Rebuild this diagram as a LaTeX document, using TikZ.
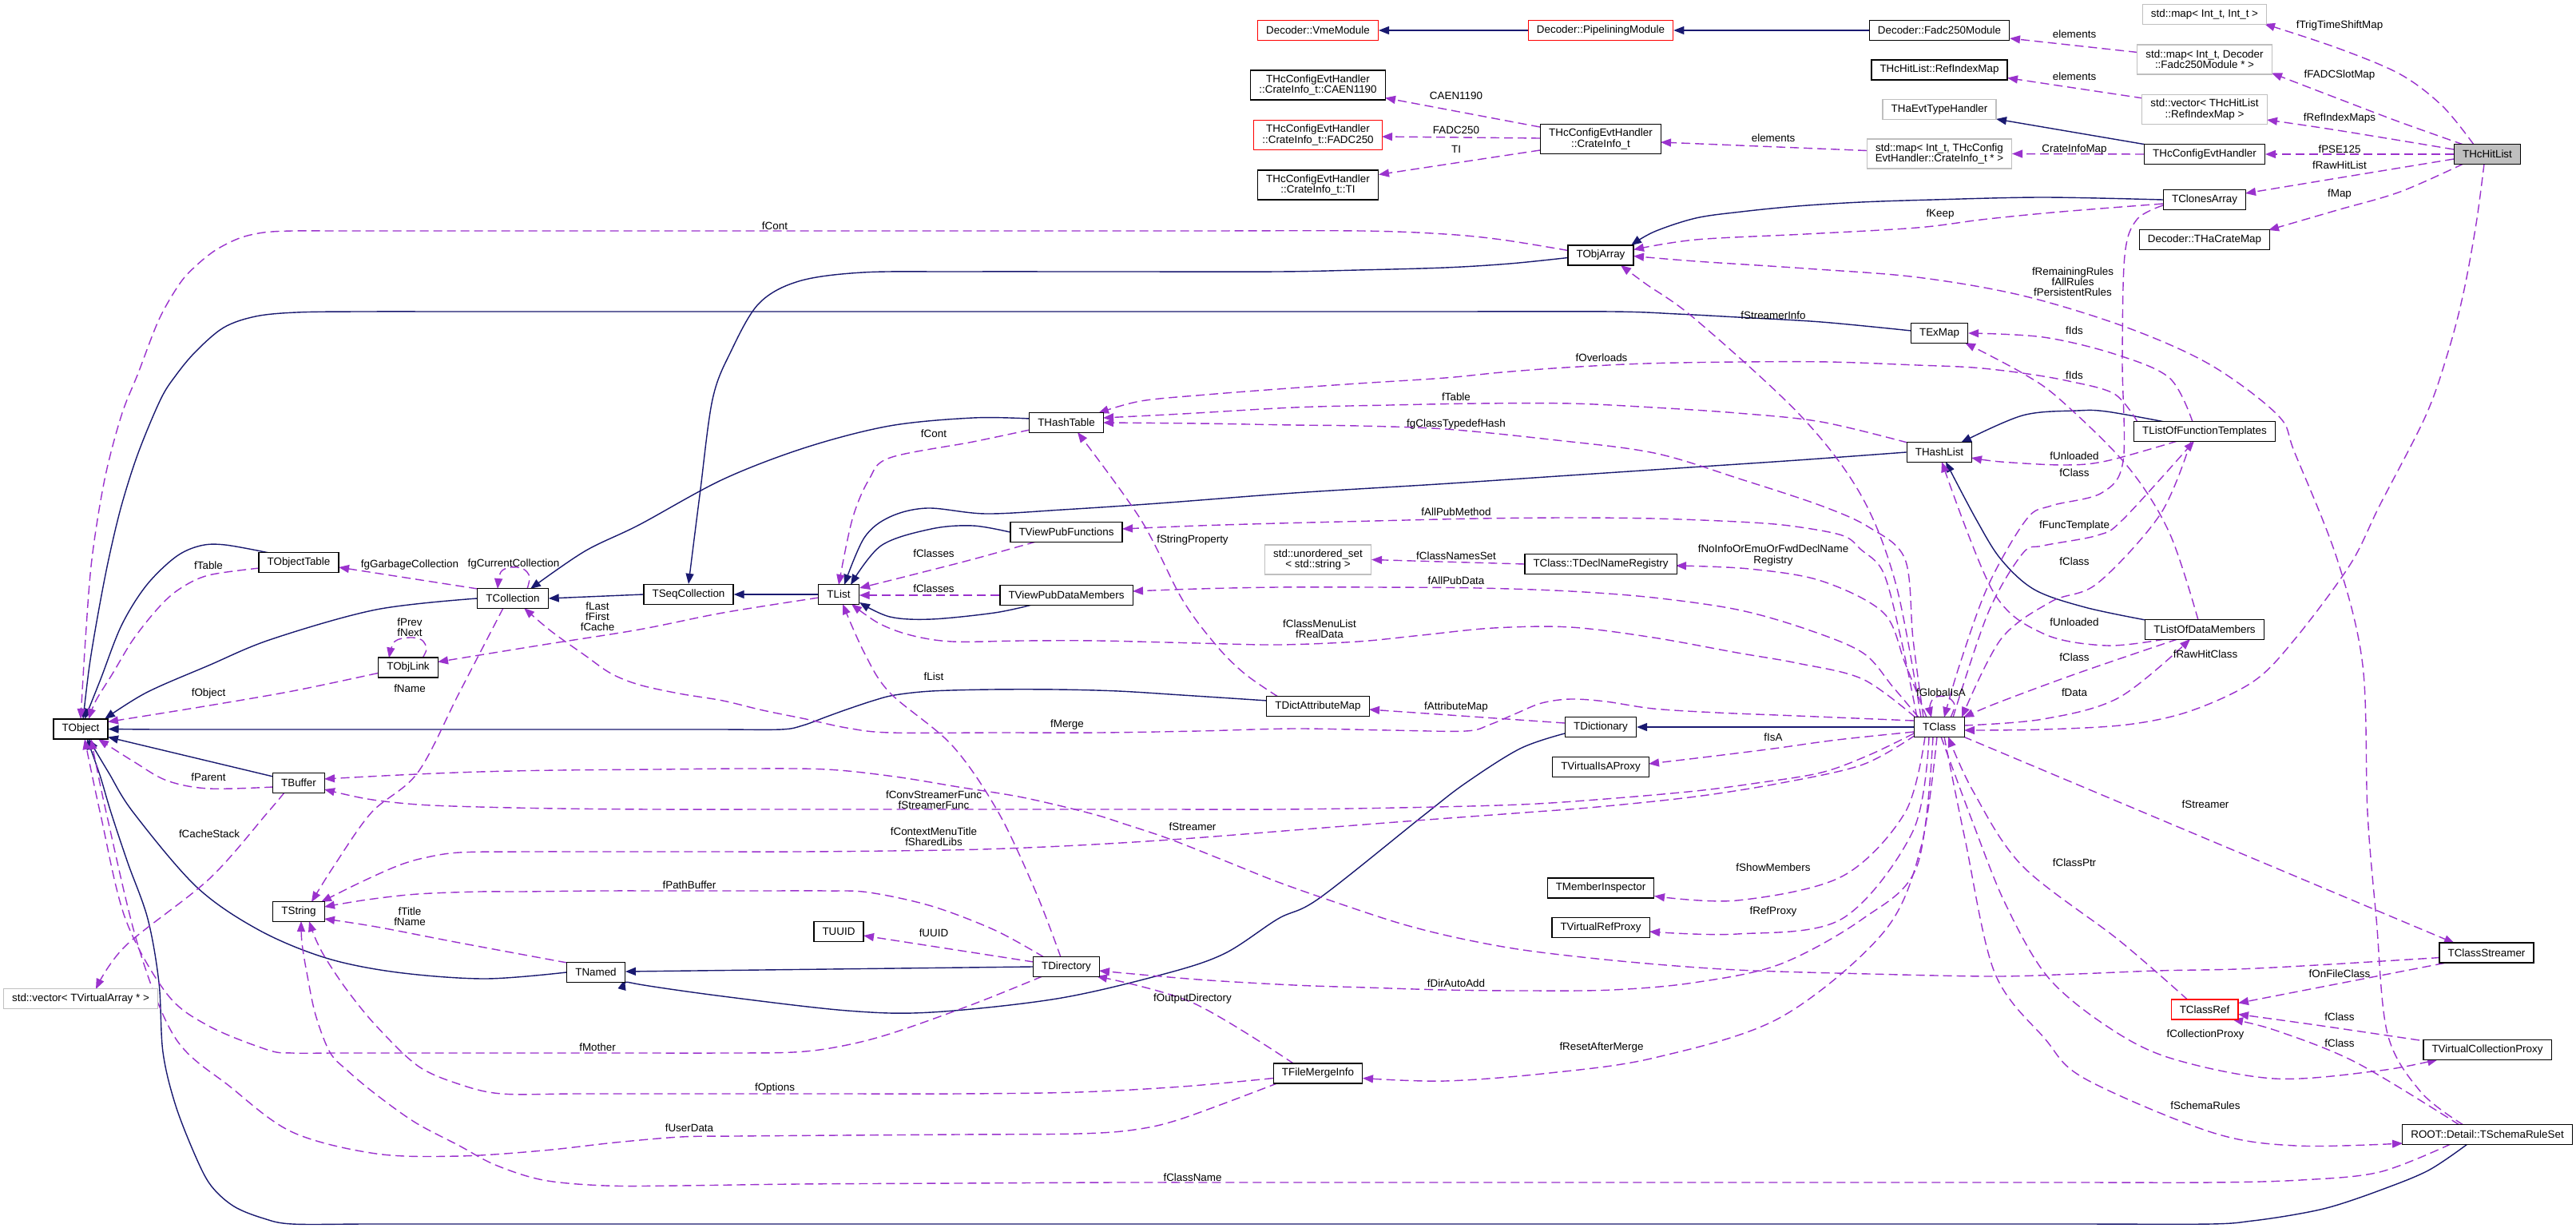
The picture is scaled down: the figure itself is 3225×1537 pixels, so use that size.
\documentclass[tikz,border=0pt]{standalone}
\usepackage{fontspec}
\setmainfont{Liberation Sans}
\usetikzlibrary{arrows.meta,calc,backgrounds}
\definecolor{inhc}{HTML}{191970}
\definecolor{usec}{HTML}{9A32CD}
\definecolor{gbord}{HTML}{BFBFBF}
\definecolor{hitfill}{HTML}{BFBFBF}
\newcommand\dxfont{\fontsize{6.7}{6.6}\selectfont}
\begin{document}
\begin{tikzpicture}[x=0.5pt,y=-0.5pt,
  box/.style={draw=black, line width=0.6pt, fill=white, font=\dxfont, inner xsep=5.3pt, inner ysep=1pt, minimum height=12.5pt, align=center},
  two/.style={minimum height=18.5pt},
  gb/.style={draw=gbord},
  rb/.style={draw=red},
  inh/.style={draw=inhc, line width=0.7pt, -{Triangle[length=6.5pt,width=5pt]}},
  dep/.style={draw=usec, line width=0.7pt, dash pattern=on 5.5pt off 3pt, -{Triangle[length=6.5pt,width=5pt]}},
  lbl/.style={font=\dxfont, inner sep=0pt, align=center},
  sm/.style={smooth, tension=0.55}]
\useasboundingbox (0,0) rectangle (3225,1537);

% ---------------- nodes ----------------
\node[box,rb] (vme) at (1650,38) {Decoder::VmeModule};
\node[box,rb] (pipe) at (2004,38) {Decoder::PipeliningModule};
\node[box] (fadc) at (2428,38) {Decoder::Fadc250Module};
\node[box,two] (caen) at (1650,106.5) {THcConfigEvtHandler\\::CrateInfo\_t::CAEN1190};
\node[box,two,rb] (fadcinfo) at (1650,169) {THcConfigEvtHandler\\::CrateInfo\_t::FADC250};
\node[box,two] (ti) at (1650,231.5) {THcConfigEvtHandler\\::CrateInfo\_t::TI};
\node[box,two] (crate) at (2004,174) {THcConfigEvtHandler\\::CrateInfo\_t};
\node[box,two,gb] (mapcrate) at (2428,192.5) {std::map< Int\_t, THcConfig\\EvtHandler::CrateInfo\_t * >};
\node[box,gb] (evttype) at (2428,137) {THaEvtTypeHandler};
\node[box] (refidx) at (2428,87.5) {THcHitList::RefIndexMap};
\node[box,gb] (mapint) at (2760,18) {std::map< Int\_t, Int\_t >};
\node[box,two,gb] (mapfadc) at (2760,74.5) {std::map< Int\_t, Decoder\\::Fadc250Module * >};
\node[box,two,gb] (vecref) at (2760,137) {std::vector< THcHitList\\::RefIndexMap >};
\node[box] (cfg) at (2760,193) {THcConfigEvtHandler};
\node[box,fill=hitfill] (hit) at (3114,193) {THcHitList};
\node[box] (clones) at (2760,250) {TClonesArray};
\node[box] (cratemap) at (2760,300) {Decoder::THaCrateMap};
\node[box] (objarr) at (2004,319.5) {TObjArray};
\node[box] (exmap) at (2428,417) {TExMap};
\node[box] (hashtable) at (1335,529) {THashTable};
\node[box] (seqcoll) at (862,744) {TSeqCollection};
\node[box] (tlist) at (1050,744) {TList};
\node[box] (vpf) at (1335,666) {TViewPubFunctions};
\node[box] (vpd) at (1335,745) {TViewPubDataMembers};
\node[box,two,gb] (uset) at (1650,700.5) {std::unordered\_set\\< std::string >};
\node[box] (dictattr) at (1650,884) {TDictAttributeMap};
\node[box] (declreg) at (2004,706) {TClass::TDeclNameRegistry};
\node[box] (dict) at (2004,910) {TDictionary};
\node[box] (isaproxy) at (2004,960) {TVirtualIsAProxy};
\node[box] (tclass) at (2428,910) {TClass};
\node[box] (hashlist) at (2428,566) {THashList};
\node[box] (lft) at (2760,540) {TListOfFunctionTemplates};
\node[box] (ldm) at (2760,788) {TListOfDataMembers};
\node[box] (objtable) at (374,704) {TObjectTable};
\node[box] (coll) at (642,749) {TCollection};
\node[box] (objlink) at (511,835.5) {TObjLink};
\node[box] (tobject) at (101,912.5) {TObject};
\node[box] (buffer) at (374,980) {TBuffer};
\node[box] (tstring) at (374,1141) {TString};
\node[box,gb] (vecva) at (101,1250) {std::vector< TVirtualArray * >};
\node[box] (named) at (746,1217) {TNamed};
\node[box] (uuid) at (1050,1166) {TUUID};
\node[box] (dir) at (1335,1210) {TDirectory};
\node[box] (fmi) at (1650,1343.5) {TFileMergeInfo};
\node[box] (meminsp) at (2004,1111.5) {TMemberInspector};
\node[box] (refproxy) at (2004,1161) {TVirtualRefProxy};
\node[box] (cstreamer) at (3113,1192.5) {TClassStreamer};
\node[box,rb] (classref) at (2760,1263.5) {TClassRef};
\node[box] (vcp) at (3114,1314) {TVirtualCollectionProxy};
\node[box] (schema) at (3114,1420) {ROOT::Detail::TSchemaRuleSet};

% ---------------- labels ----------------
\node[lbl] (l1) at (2929,32) {fTrigTimeShiftMap};
\node[lbl] (l2) at (2597,43) {elements};
\node[lbl] (l3) at (2929,94) {fFADCSlotMap};
\node[lbl] (l4) at (2597,96) {elements};
\node[lbl] (l5) at (1823,120) {CAEN1190};
\node[lbl] (l6) at (2929,148) {fRefIndexMaps};
\node[lbl] (l7) at (1823,163) {FADC250};
\node[lbl] (l8) at (2220,173) {elements};
\node[lbl] (l9) at (1823,187) {TI};
\node[lbl] (l10) at (2597,187) {CrateInfoMap};
\node[lbl] (l11) at (2929,187) {fPSE125};
\node[lbl] (l12) at (2929,207) {fRawHitList};
\node[lbl] (l13) at (2929,243) {fMap};
\node[lbl] (l14) at (2429,268) {fKeep};
\node[lbl] (l15) at (970,283) {fCont};
\node[lbl] (l16) at (2595,353) {fRemainingRules\\fAllRules\\fPersistentRules};
\node[lbl] (l17) at (2220,395) {fStreamerInfo};
\node[lbl] (l18) at (2597,414) {fIds};
\node[lbl] (l19) at (2005,448) {fOverloads};
\node[lbl] (l20) at (2597,470) {fIds};
\node[lbl] (l21) at (1823,497) {fTable};
\node[lbl] (l22) at (1823,531) {fgClassTypedefHash};
\node[lbl] (l23) at (1169,543) {fCont};
\node[lbl] (l24) at (2597,571) {fUnloaded};
\node[lbl] (l25) at (2597,592) {fClass};
\node[lbl] (l26) at (1823,641) {fAllPubMethod};
\node[lbl] (l27) at (2597,658) {fFuncTemplate};
\node[lbl] (l28) at (1493,676) {fStringProperty};
\node[lbl] (l29) at (2220,695) {fNoInfoOrEmuOrFwdDeclName\\Registry};
\node[lbl] (l30) at (1823,696) {fClassNamesSet};
\node[lbl] (l31) at (1169,693) {fClasses};
\node[lbl] (l32) at (2597,703) {fClass};
\node[lbl] (l33) at (261,708) {fTable};
\node[lbl] (l34) at (513,707) {fgGarbageCollection};
\node[lbl] (l35) at (643,706) {fgCurrentCollection};
\node[lbl] (l36) at (1823,727) {fAllPubData};
\node[lbl] (l37) at (1169,737) {fClasses};
\node[lbl] (l38) at (748,772) {fLast\\fFirst\\fCache};
\node[lbl] (l39) at (2597,779) {fUnloaded};
\node[lbl] (l40) at (513,785) {fPrev\\fNext};
\node[lbl] (l41) at (1652,787) {fClassMenuList\\fRealData};
\node[lbl] (l42) at (2761,819) {fRawHitClass};
\node[lbl] (l43) at (2597,823) {fClass};
\node[lbl] (l44) at (1169,847) {fList};
\node[lbl] (l45) at (513,862) {fName};
\node[lbl] (l46) at (2430,867) {fGlobalIsA};
\node[lbl] (l47) at (2597,867) {fData};
\node[lbl] (l48) at (261,868) {fObject};
\node[lbl] (l49) at (1823,885) {fAttributeMap};
\node[lbl] (l50) at (1336,907) {fMerge};
\node[lbl] (l51) at (2220,923) {fIsA};
\node[lbl] (l52) at (261,973) {fParent};
\node[lbl] (l53) at (1169,1001) {fConvStreamerFunc\\fStreamerFunc};
\node[lbl] (l54) at (2761,1007) {fStreamer};
\node[lbl] (l55) at (262,1044) {fCacheStack};
\node[lbl] (l56) at (1169,1047) {fContextMenuTitle\\fSharedLibs};
\node[lbl] (l57) at (1493,1035) {fStreamer};
\node[lbl] (l58) at (2597,1080) {fClassPtr};
\node[lbl] (l59) at (2220,1086) {fShowMembers};
\node[lbl] (l60) at (863,1108) {fPathBuffer};
\node[lbl] (l61) at (513,1147) {fTitle\\fName};
\node[lbl] (l62) at (2220,1141) {fRefProxy};
\node[lbl] (l63) at (1169,1168) {fUUID};
\node[lbl] (l64) at (2929,1219) {fOnFileClass};
\node[lbl] (l65) at (1823,1231) {fDirAutoAdd};
\node[lbl] (l66) at (1493,1250) {fOutputDirectory};
\node[lbl] (l67) at (2929,1273) {fClass};
\node[lbl] (l68) at (2761,1295) {fCollectionProxy};
\node[lbl] (l69) at (2929,1306) {fClass};
\node[lbl] (l70) at (748,1311) {fMother};
\node[lbl] (l71) at (2005,1311) {fResetAfterMerge};
\node[lbl] (l72) at (970,1362) {fOptions};
\node[lbl] (l73) at (2761,1384) {fSchemaRules};
\node[lbl] (l74) at (863,1412) {fUserData};
\node[lbl] (l75) at (1493,1474) {fClassName};

\begin{scope}[on background layer]
\fill[white] (0,0) rectangle (3225,1537);
% ---------------- inheritance ----------------
\draw[inh] (pipe.west) -- (vme.east);
\draw[inh] (fadc.west) -- (pipe.east);
\draw[inh] ($(cfg)+(-73,-12)$) -- ($(evttype)+(71,12)$);
\draw[inh] plot[sm] coordinates {(clones.west) (2558,247) (2420,250) (2330,253) (2250,258) (2180,265) (2123,273) (2071,290) ($(objarr)+(38,-12.5)$)};
\draw[inh] plot[sm] coordinates {($(objarr)+(-41,3)$) (1890,330) (1809,335) (1700,338) (1600,340) (1400,340) (1200,340) (1080,341) (1000,352) (950,380) (915,440) (892,500) (876,620) (seqcoll.north)};
\draw[inh] plot[sm] coordinates {($(exmap)+(-35,-3)$) (2280,403) (2175,397) (2100,393) (2018,390) (1800,390) (1600,390) (1400,390) (1200,390) (1000,390) (800,390) (600,390) (450,390) (371,391) (320,396) (280,410) (245,440) (220,470) (201,500) (173,567) (152,633) (136,700) (123,767) (112,833) ($(tobject)+(3,-12.5)$)};
\draw[inh] plot[sm] coordinates {($(hashtable)+(-46,-5)$) (1218,523) (1114,533) (1009,560) (905,600) (800,657) (732,690) ($(coll)+(22,-12)$)};
\draw[inh] (seqcoll.west) -- (coll.east);
\draw[inh] (tlist.west) -- (seqcoll.east);
\draw[inh] plot[sm] coordinates {(hashlist.west) (2250,576) (2100,586) (1950,596) (1800,606) (1620,617) (1450,630) (1330,638) (1234,643) (1161,636) (1114,647) (1082,673) ($(tlist)+(7,-12)$)};
\draw[inh] plot[sm] coordinates {(vpf.west) (1218,658) (1166,662) (1103,683) ($(tlist)+(15,-12)$)};
\draw[inh] plot[sm] coordinates {($(vpd)+(-43,12)$) (1245,767) (1166,775) (1114,772) ($(tlist)+(26,10)$)};
\draw[inh] plot[sm] coordinates {(coll.west) (471,763) (340,800) (261,833) (183,867) ($(tobject)+(30,-12.5)$)};
\draw[inh] plot[sm] coordinates {($(objtable)+(-37,-12)$) (282,682) (251,683) (220,697) (183,733) (152,783) (126,850) ($(tobject)+(5,-12.5)$)};
\draw[inh] plot[sm] coordinates {($(dictattr)+(-63,-7)$) (1480,870) (1400,865) (1323,863) (1240,863) (1166,865) (1120,870) (1093,877) (1060,888) (1035,897) (1005,908) (978,913) (900,913) (800,913) (700,913) (600,913) (500,913) (400,913) (300,913) (200,913) (tobject.east)};
\draw[inh] ($(buffer)+(-32,-8)$) -- ($(tobject)+(34,10)$);
\draw[inh] plot[sm] coordinates {(named.west) (607,1225) (497,1217) (408,1199) (324,1164) (246,1110) (167,1017) (136,967) ($(tobject)+(10,12.5)$)};
\draw[inh] (dir.west) -- ($(named.east)+(0,-1)$);
\draw[inh] plot[sm] coordinates {($(dict)+(-45,8)$) (1903,937) (1835,980) (1783,1020) (1652,1124) (1600,1150) (1532,1194) (1454,1220) (1323,1250) (1166,1267) (1061,1265) (905,1247) (800,1232) ($(named)+(36,9)$)};
\draw[inh] (tclass.west) -- (dict.east);
\draw[inh] plot[sm] coordinates {($(lft)+(-50,-12)$) (2637,515) (2600,514) (2532,520) ($(hashlist)+(27,-12)$)};
\draw[inh] plot[sm] coordinates {($(ldm)+(-74,-12)$) (2610,760) (2547,738) (2505,700) (2474,650) ($(hashlist)+(8,12)$)};
\draw[inh] plot[sm] coordinates {($(schema)+(-25,12)$) (3040,1465) (2979,1490) (2920,1510) (2874,1520) (2820,1528) (2768,1532) (2600,1532) (2400,1532) (2200,1532) (2000,1532) (1800,1532) (1600,1532) (1400,1532) (1200,1532) (1000,1532) (800,1532) (600,1532) (460,1532) (366,1532) (330,1525) (293,1510) (265,1485) (246,1450) (220,1384) (204,1317) (199,1230) (185,1150) (160,1080) (139,1017) (125,970) ($(tobject)+(8,12.5)$)};

% ---------------- usage ----------------
\draw[dep] plot[sm] coordinates {($(hit)+(-17,-12)$) (3058,133) (3005,93) (2926,60) ($(mapint)+(75,12)$)};
\draw[dep] plot[sm] coordinates {($(hit)+(-30,-12)$) (3005,153) (2926,123) ($(mapfadc)+(84,17)$)};
\draw[dep] plot[sm] coordinates {($(hit)+(-42,-6)$) (2926,163) ($(vecref)+(78,13)$)};
\draw[dep] (hit.west) -- (cfg.east);
\draw[dep] plot[sm] coordinates {($(hit)+(-42,6)$) (2926,223) ($(clones)+(51,-8)$)};
\draw[dep] plot[sm] coordinates {($(hit)+(-30,12)$) (3005,240) (2926,263) ($(cratemap)+(80,-12)$)};
\draw[dep] plot[sm] coordinates {($(hit)+(-4,12)$) (3100,280) (3084,367) (3065,440) (3037,520) (2979,633) (2942,707) (2873,800) (2821,853) (2742,890) (2663,907) (2558,913) ($(tclass)+(31,4)$)};
\draw[dep] ($(mapfadc)+(-84,-9)$) -- ($(fadc)+(88,10)$);
\draw[dep] ($(vecref)+(-77,-14)$) -- ($(refidx)+(85,10)$);
\draw[dep] ($(mapcrate)+(-91,-4)$) -- ($(crate)+(75,4)$);
\draw[dep] (cfg.west) -- ($(mapcrate)+(91,0)$);
\draw[dep] ($(crate)+(-76,-15)$) -- ($(caen)+(84,16)$);
\draw[dep] ($(crate)+(-76,-1)$) -- ($(fadcinfo)+(80,2)$);
\draw[dep] ($(crate)+(-76,14)$) -- ($(ti)+(76,-13)$);
\draw[dep] plot[sm] coordinates {($(clones)+(-52,5)$) (2630,261) (2558,267) (2480,275) (2400,285) (2260,293) (2123,300) ($(objarr)+(41,-7)$)};
\draw[dep] plot[sm] coordinates {($(objarr)+(-41,-6)$) (1880,300) (1809,293) (1705,289) (1500,289) (1300,289) (1100,289) (900,289) (700,289) (500,289) (420,289) (366,289) (330,291) (300,298) (270,313) (245,333) (225,355) (199,400) (173,467) (152,520) (131,600) (115,700) (107,800) ($(tobject)+(0,-12.5)$)};
\draw[dep] plot[sm] coordinates {($(objtable)+(-49,7)$) (261,720) (225,737) (199,760) (167,800) (141,843) (120,877) ($(tobject)+(10,-12.5)$)};
\draw[dep] ($(coll)+(-44,-12)$) -- ($(objtable)+(50,6)$);
\draw[dep] plot[sm] coordinates {($(coll)+(18,-12)$) (663,722) (655,712) (640,710) (627,716) ($(coll)+(-19,-12)$)};
\draw[dep] plot[sm] coordinates {($(objlink)+(18,-12)$) (534,812) (528,801) (513,798) (494,803) ($(objlink)+(-24,-12)$)};
\draw[dep] plot[sm] coordinates {($(tlist)+(-25,4)$) (905,767) (800,788) (680,807) ($(objlink)+(37,-7)$)};
\draw[dep] plot[sm] coordinates {($(objlink)+(-38,7)$) (366,865) (250,885) ($(tobject)+(34,-9)$)};
\draw[dep] plot[sm] coordinates {($(coll)+(-12,12)$) (575,867) (523,967) (465,1017) (418,1084) ($(tstring)+(16,-12)$)};
\draw[dep] plot[sm] coordinates {($(buffer)+(-18,12)$) (335,1017) (262,1100) (157,1184) ($(vecva)+(19,-12)$)};
\draw[dep] plot[sm] coordinates {($(buffer)+(-32,5)$) (261,987) (209,977) (167,953) ($(tobject)+(22,12.5)$)};
\draw[dep] plot[sm] coordinates {($(dir)+(-30,12)$) (1218,1257) (1114,1294) (1050,1310) (993,1317) (900,1318) (800,1318) (700,1318) (600,1318) (500,1318) (420,1318) (366,1318) (335,1314) (261,1284) (209,1244) (157,1150) (126,1020) ($(tobject)+(5,12.5)$)};
\draw[dep] plot[sm] coordinates {($(fmi)+(-50,12)$) (1480,1400) (1420,1414) (1349,1419) (1200,1420) (1050,1421) (920,1422) (852,1423) (770,1430) (680,1440) (575,1447) (471,1444) (366,1417) (288,1360) (220,1300) (173,1184) (133,1017) ($(tobject)+(13,12.5)$)};
\draw[dep] plot[sm] coordinates {($(named)+(-36,-12)$) (575,1180) (471,1160) ($(tstring)+(32,9)$)};
\draw[dep] plot[sm] coordinates {($(dir)+(-28,-12)$) (1245,1164) (1166,1134) (1088,1117) (1035,1115) (950,1115) (850,1115) (750,1115) (650,1116) (601,1116) (523,1119) (460,1126) ($(tstring)+(32,-6)$)};
\draw[dep] plot[sm] coordinates {($(tclass)+(-30,10)$) (2332,957) (2230,980) (2123,997) (2000,1010) (1909,1017) (1760,1028) (1620,1039) (1480,1050) (1350,1058) (1230,1063) (1114,1065) (1000,1066) (880,1066) (760,1066) (660,1066) (575,1067) (530,1074) (497,1084) (450,1105) ($(tstring)+(28,-12)$)};
\draw[dep] plot[sm] coordinates {($(tclass)+(-30,-12)$) (2332,850) (2250,830) (2175,817) (2070,798) (1966,785) (1870,786) (1780,795) (1700,803) (1600,807) (1500,805) (1375,802) (1280,802) (1192,803) (1140,795) (1100,780) ($(tlist)+(16,12)$)};
\draw[dep] plot[sm] coordinates {($(dir)+(-7,-12)$) (1297,1117) (1250,1017) (1192,933) (1114,867) (1082,817) ($(tlist)+(5,12)$)};
\draw[dep] plot[sm] coordinates {($(hashtable)+(-46,9)$) (1218,553) (1114,573) (1088,600) (1067,650) ($(tlist)+(0,-12)$)};
\draw[dep] plot[sm] coordinates {($(vpf)+(-38,12)$) (1218,700) (1140,720) ($(tlist)+(26,-8)$)};
\draw[dep] (vpd.west) -- ($(tlist.east)+(0,1)$);
\draw[dep] plot[sm] coordinates {($(hashlist)+(-40,-12)$) (2280,528) (2175,517) (2070,510) (1966,505) (1850,505) (1740,507) (1620,510) (1480,518) ($(hashtable)+(46,-6)$)};
\draw[dep] plot[sm] coordinates {($(tclass)+(-20,-12)$) (2395,800) (2385,700) (2340,660) (2280,633) (2180,600) (2071,567) (1940,550) (1809,537) (1700,533) (1620,532) (1500,530) ($(hashtable)+(46,0)$)};
\draw[dep] plot[sm] coordinates {($(lft)+(-84,-12)$) (2647,493) (2590,477) (2532,467) (2470,460) (2400,457) (2290,453) (2175,453) (2060,455) (1960,460) (1880,466) (1809,473) (1700,480) (1600,487) (1510,494) (1428,502) ($(hashtable)+(40,-12)$)};
\draw[dep] plot[sm] coordinates {($(lft)+(-15,-12)$) (2716,473) (2647,443) (2558,422) (exmap.east)};
\draw[dep] plot[sm] coordinates {($(ldm)+(-8,-12)$) (2716,667) (2663,583) (2579,500) (2532,467) ($(exmap)+(32,12)$)};
\draw[dep] plot[sm] coordinates {($(tclass)+(-23,-12)$) (2374,733) (2330,620) (2254,520) (2123,400) (2060,355) ($(objarr)+(25,12.5)$)};
\draw[dep] plot[sm] coordinates {($(schema)+(-30,-12)$) (3031,1367) (2989,1294) (2975,1150) (2964,1017) (2958,833) (2926,700) (2873,567) (2852,520) (2768,457) (2663,410) (2532,370) (2400,347) (2260,336) (2123,327) ($(objarr)+(41,1)$)};
\draw[dep] plot[sm] coordinates {($(clones)+(-52,7)$) (2675,275) (2660,320) (2657,450) (2658,577) (2631,617) (2568,633) (2537,650) (2489,733) (2453,833) ($(tclass)+(6,-12)$)};
\draw[dep] plot[sm] coordinates {($(tclass)+(17,-12)$) (2489,767) (2532,693) (2558,683) (2626,670) (2658,650) ($(lft)+(-13,12)$)};
\draw[dep] plot[sm] coordinates {($(lft)+(-17,12)$) (2705,643) (2626,730) (2568,753) (2505,800) ($(tclass)+(28,-12)$)};
\draw[dep] plot[sm] coordinates {($(lft)+(-34,12)$) (2637,577) (2584,582) (2505,578) ($(hashlist)+(40,7)$)};
\draw[dep] plot[sm] coordinates {($(ldm)+(-50,12)$) (2637,808) (2558,793) (2495,740) ($(hashlist)+(3,12)$)};
\draw[dep] plot[sm] coordinates {($(ldm)+(-34,12)$) (2600,843) (2500,880) ($(tclass)+(30,-12)$)};
\draw[dep] plot[sm] coordinates {($(tclass)+(31,-2)$) (2558,900) (2653,873) ($(ldm)+(-18,12)$)};
\draw[dep] plot[sm] coordinates {($(tclass)+(14,-12)$) (2447,882) (2437,872) (2422,873) (2416,884) ($(tclass)+(-10,-12)$)};
\draw[dep] ($(tclass)+(30,12)$) -- ($(cstreamer)+(-40,-12)$);
\draw[dep] plot[sm] coordinates {($(tclass)+(-18,12)$) (2385,1017) (2306,1097) (2175,1127) ($(meminsp)+(67,10)$)};
\draw[dep] plot[sm] coordinates {($(tclass)+(-13,12)$) (2395,1040) (2306,1150) (2175,1169) ($(refproxy)+(61,5)$)};
\draw[dep] plot[sm] coordinates {($(tclass)+(-8,12)$) (2400,1084) (2332,1150) (2228,1207) (2120,1230) (2018,1239) (1909,1240) (1809,1239) (1710,1236) (1620,1233) (1500,1226) ($(dir)+(41,5)$)};
\draw[dep] plot[sm] coordinates {($(tclass)+(-3,12)$) (2405,1060) (2358,1167) (2228,1274) (2071,1324) (1940,1343) (1809,1353) ($(fmi)+(56,6)$)};
\draw[dep] plot[sm] coordinates {($(fmi)+(-30,-12)$) (1493,1255) ($(dir)+(38,12)$)};
\draw[dep] ($(dir)+(-41,-6)$) -- ($(uuid)+(31,5)$);
\draw[dep] plot[sm] coordinates {($(classref)+(-21,-12)$) (2653,1177) (2532,1084) (2470,990) ($(tclass)+(11,12)$)};
\draw[dep] plot[sm] coordinates {($(tclass)+(2,12)$) (2470,1030) (2510,1130) (2563,1222) (2637,1284) (2716,1324) (2847,1350) (2979,1340) ($(vcp)+(-62,12)$)};
\draw[dep] plot[sm] coordinates {($(tclass)+(6,12)$) (2460,1050) (2497,1217) (2560,1300) (2610,1350) (2768,1417) (2874,1434) ($(schema)+(-106,11)$)};
\draw[dep] ($(cstreamer)+(-53,13)$) -- ($(classref)+(42,-8)$);
\draw[dep] plot[sm] coordinates {($(cstreamer)+(-58,6)$) (2900,1208) (2800,1213) (2700,1215) (2600,1219) (2497,1222) (2340,1219) (2175,1214) (2040,1204) (1914,1190) (1830,1175) (1757,1157) (1680,1132) (1600,1104) (1530,1076) (1464,1050) (1410,1032) (1365,1018) (1280,998) (1200,985) (1120,972) (1035,963) (930,962) (820,963) (700,964) (600,966) (500,970) ($(buffer)+(32,-5)$)};
\draw[dep] plot[sm] coordinates {($(tclass)+(-32,8)$) (2340,945) (2280,967) (2200,980) (2123,990) (2010,1000) (1903,1007) (1750,1011) (1600,1013) (1450,1013) (1300,1013) (1150,1013) (1000,1013) (820,1013) (700,1012) (600,1010) (523,1007) (460,1000) ($(buffer)+(32,8)$)};
\draw[dep] plot[sm] coordinates {($(tclass)+(-32,-8)$) (2250,896) (2150,892) (2070,887) (2010,878) (1966,875) (1930,880) (1898,893) (1865,907) (1835,915) (1740,914) (1620,912) (1500,915) (1375,917) (1250,917) (1114,917) (1060,911) (1009,900) (955,889) (905,877) (850,868) (800,857) (765,843) (732,820) (690,790) ($(coll)+(14,12)$)};
\draw[dep] plot[sm] coordinates {($(tclass)+(-28,-12)$) (2380,800) (2358,717) (2330,688) (2306,670) (2240,658) (2175,653) (2070,649) (1966,648) (1850,649) (1720,652) (1600,655) (1500,658) ($(vpf)+(70,-4)$)};
\draw[dep] (declreg.west) -- (uset.east);
\draw[dep] plot[sm] coordinates {($(tclass)+(-16,-12)$) (2385,830) (2358,767) (2280,727) (2190,712) ($(declreg)+(94,2)$)};
\draw[dep] plot[sm] coordinates {($(tclass)+(-26,-12)$) (2370,860) (2332,817) (2260,787) (2175,763) (2070,748) (1966,740) (1850,736) (1720,735) (1600,735) (1500,737) ($(vpd)+(83,-5)$)};
\draw[dep] ($(dict)+(-45,-5)$) -- ($(dictattr)+(64,4)$);
\draw[dep] plot[sm] coordinates {($(tclass)+(-32,6)$) (2300,926) (2220,937) (2140,947) ($(isaproxy)+(60,-4)$)};
\draw[dep] plot[sm] coordinates {($(schema)+(-46,12)$) (2979,1467) (2880,1477) (2768,1480) (2600,1480) (2400,1480) (2200,1480) (2000,1480) (1800,1480) (1600,1480) (1400,1480) (1200,1481) (1000,1482) (850,1484) (758,1484) (680,1477) (620,1458) (575,1434) (520,1405) (471,1370) (435,1340) (413,1317) (395,1270) (384,1217) (378,1180) ($(tstring)+(3,12)$)};
\draw[dep] plot[sm] coordinates {($(fmi)+(-56,6)$) (1480,1360) (1349,1367) (1200,1369) (1050,1369) (900,1369) (820,1369) (720,1369) (628,1369) (575,1357) (523,1334) (471,1284) (435,1240) (408,1200) (395,1175) ($(tstring)+(13,12)$)};
\draw[dep] plot[sm] coordinates {($(dictattr)+(-50,-12)$) (1558,843) (1522,807) (1480,750) (1428,650) ($(hashtable)+(14,12)$)};
\draw[dep] plot[sm] coordinates {($(vcp)+(-85,-12)$) (2900,1283) ($(classref)+(42,6)$)};
\draw[dep] plot[sm] coordinates {($(schema)+(-35,-12)$) (2950,1330) (2850,1290) ($(classref)+(35,12.5)$)};
\end{scope}
\end{tikzpicture}
\end{document}
